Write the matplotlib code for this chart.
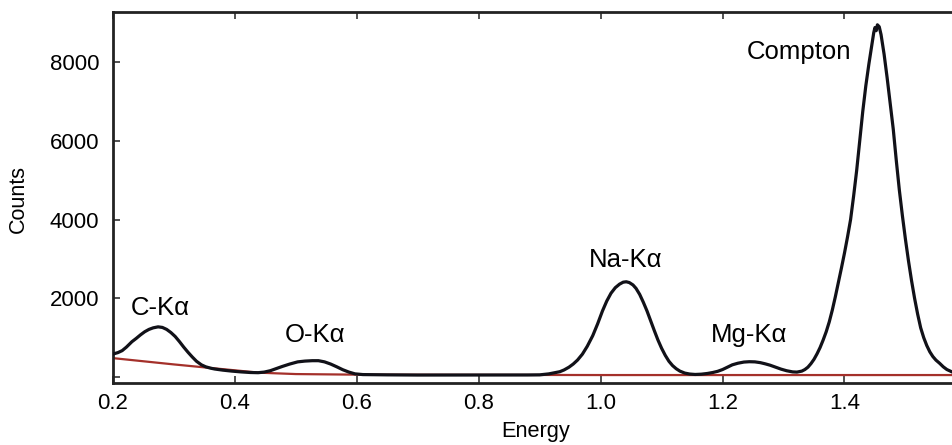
import matplotlib
matplotlib.use("Agg")
import matplotlib.pyplot as plt

plt.rcParams['font.family'] = ['Liberation Sans', 'DejaVu Sans']

energy = [0.200, 0.208, 0.215, 0.222, 0.231, 0.238, 0.245, 0.252, 0.259, 0.266,
          0.274, 0.281, 0.288, 0.295, 0.302, 0.309, 0.316, 0.323, 0.330, 0.337,
          0.345, 0.352, 0.360, 0.367, 0.380, 0.395, 0.410, 0.425, 0.438, 0.448,
          0.458, 0.468, 0.478, 0.490, 0.503, 0.515, 0.527, 0.537, 0.547, 0.557,
          0.567, 0.577, 0.587, 0.597, 0.610, 0.650, 0.700, 0.800, 0.880,
          0.900, 0.915, 0.925, 0.933, 0.940, 0.948, 0.955, 0.962, 0.970, 0.978,
          0.987, 0.995, 1.003, 1.010, 1.017, 1.024, 1.031, 1.037, 1.042, 1.047,
          1.053, 1.058, 1.064, 1.070, 1.076, 1.082, 1.088, 1.094, 1.100, 1.106,
          1.112, 1.118, 1.124, 1.130, 1.138, 1.146, 1.155, 1.165,
          1.175, 1.184, 1.192, 1.200, 1.208, 1.216, 1.225, 1.235, 1.244, 1.253,
          1.262, 1.270, 1.278, 1.287, 1.296, 1.305, 1.315, 1.322,
          1.330, 1.335, 1.340, 1.345, 1.350, 1.355, 1.360, 1.365, 1.370, 1.375,
          1.380, 1.385, 1.390, 1.395, 1.400, 1.405, 1.410, 1.415, 1.420, 1.425,
          1.430, 1.435, 1.440, 1.445, 1.448, 1.450, 1.452, 1.454, 1.457, 1.460,
          1.465, 1.470, 1.475, 1.480, 1.485, 1.490, 1.495, 1.500, 1.505, 1.510,
          1.515, 1.520, 1.525, 1.530, 1.535, 1.540, 1.545, 1.550, 1.556, 1.562,
          1.568, 1.575]
counts = [584, 620, 670, 760, 897, 980, 1070, 1150, 1210, 1250,
          1275, 1260, 1210, 1130, 1030, 900, 760, 630, 510, 400,
          310, 260, 225, 203, 175, 150, 130, 115, 110, 125,
          160, 215, 270, 330, 385, 405, 415, 415, 385, 330,
          260, 185, 125, 80, 62, 55, 50, 50, 52,
          55, 80, 110, 135, 180, 250, 330, 430, 580, 780,
          1050, 1350, 1680, 1930, 2130, 2270, 2360, 2410, 2420, 2400,
          2340, 2253, 2100, 1900, 1680, 1430, 1180, 940, 730, 550,
          400, 290, 210, 150, 100, 76, 65, 72,
          90, 115, 145, 190, 250, 310, 350, 380, 389, 385,
          365, 335, 300, 250, 200, 160, 130, 125,
          150, 190, 250, 340, 450, 590, 750, 940, 1150, 1400,
          1700, 2040, 2400, 2770, 3150, 3560, 4000, 4600, 5250, 6000,
          6750, 7400, 7950, 8450, 8750, 8880, 8800, 8950, 8900, 8700,
          8200, 7600, 6950, 6300, 5500, 4750, 4100, 3500, 2950, 2450,
          2000, 1600, 1250, 1000, 800, 640, 520, 430, 350, 260,
          190, 140]

# Background (baseline) line
bg_energy = [0.200, 0.300, 0.440, 0.500, 0.600, 1.000, 1.575]
bg_counts = [480, 320, 110, 75, 60, 50, 50]

# Peak labels
peak_labels = ['C-Kα', 'O-Kα', 'Na-Kα', 'Mg-Kα', 'Compton']
label_x = [0.277, 0.531, 1.041, 1.244, 1.326]
label_y = [1753, 1067, 2973, 1067, 8258]

xticks = [0.2, 0.4, 0.6, 0.8, 1.0, 1.2, 1.4]
xticklabels = ['0.2', '0.4', '0.6', '0.8', '1.0', '1.2', '1.4']
yticks = [0, 2000, 4000, 6000, 8000]
yticklabels = ['', '2000', '4000', '6000', '8000']

fig = plt.figure(figsize=(9.52, 4.45), dpi=100)
ax = fig.add_axes([113/952, 1-383/445, 1-113/952 + 0.01, (383-12)/445])

ax.plot(bg_energy, bg_counts, color='#a4302a', lw=1.6, zorder=2)
ax.plot(energy, counts, color='#2a2a6a', lw=1.0, zorder=3)
ax.plot(energy, counts, color='#111118', lw=2.3, zorder=4, solid_joinstyle='round')

for t, x, y in zip(peak_labels, label_x, label_y):
    ax.text(x, y, t, ha='center', va='center', fontsize=18.5, color='black')

ax.set_xlim(0.2, 1.592)
ax.set_ylim(-152, 9275)
ax.set_xticks(xticks)
ax.set_xticklabels(xticklabels)
ax.set_yticks(yticks)
ax.set_yticklabels(yticklabels)
ax.tick_params(axis='both', direction='in', length=5, width=1.2, colors='#333333',
               labelcolor='black', labelsize=16, top=True, right=False)
ax.tick_params(axis='x', pad=7)
ax.tick_params(axis='y', pad=10)
for s in ['left', 'bottom', 'top']:
    ax.spines[s].set_linewidth(2.0)
    ax.spines[s].set_color('#222222')
ax.spines['right'].set_visible(False)

fig.text(18/952, 1-199/445, 'Counts', rotation=90, ha='center', va='center', fontsize=15.5)
fig.text(536/952, 1-431/445, 'Energy', ha='center', va='center', fontsize=15.7)

fig.savefig('out.png', dpi=100)
